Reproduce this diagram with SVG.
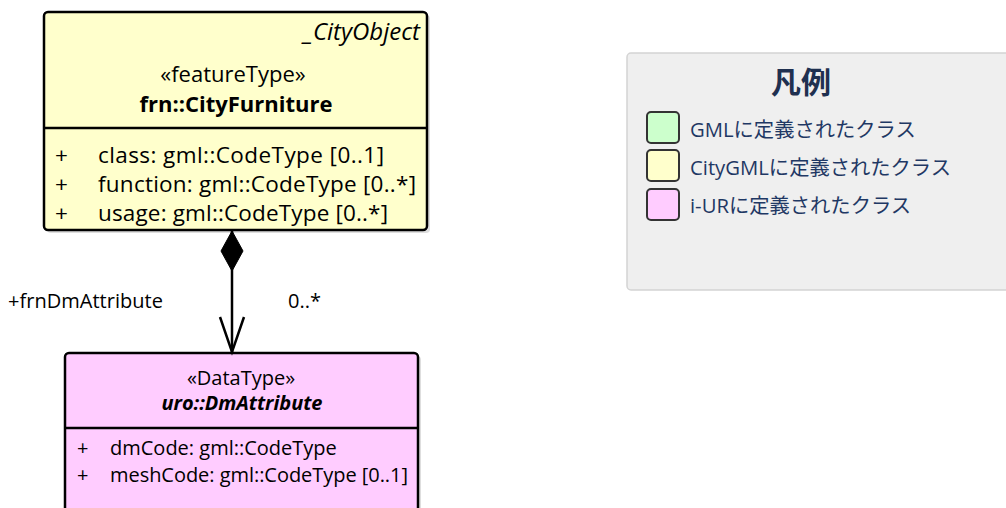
<svg xmlns="http://www.w3.org/2000/svg" width="1006" height="508" viewBox="0 0 1006 508">
<defs>
<style>
.t{font-family:"Open Sans","Noto Sans","Liberation Sans",sans-serif;fill:#000;}
.box{stroke:#000;stroke-width:2.5;}
.sh{fill:#c8c8c8;opacity:0.6;}
.h{font-size:22px;}
.a{font-size:22.5px;}
.b{font-size:20px;}
.lg{font-family:"Open Sans","Noto Sans CJK JP",sans-serif;font-size:20.3px;fill:#1f3864;}
.sw{stroke:#333;stroke-width:2;}
</style>
</defs>
<rect width="1006" height="508" fill="#ffffff"/>
<g id="legend">
<rect x="627" y="53" width="400" height="237" rx="4" fill="#efefef" stroke="#d4d4d4" stroke-width="1.5"/>
<text x="801" y="93" text-anchor="middle" font-family="'Noto Sans CJK JP',sans-serif" font-size="30" font-weight="bold" fill="#1f3050">凡例</text>
<rect class="sw" x="647" y="112" width="32" height="31" rx="4" fill="#ccffcc"/>
<rect class="sw" x="647" y="150" width="32" height="31" rx="4" fill="#ffffcc"/>
<rect class="sw" x="647" y="189" width="32" height="31" rx="4" fill="#ffccff"/>
<text class="lg" x="690" y="137">GMLに定義されたクラス</text>
<text class="lg" x="690" y="175">CityGMLに定義されたクラス</text>
<text class="lg" x="690" y="213">i-URに定義されたクラス</text>
</g>
<g id="CityFurniture">
<rect class="sh" x="47" y="15" width="383" height="218" rx="4"/>
<rect class="box" x="44" y="12" width="383" height="218" rx="4" fill="#ffffcc"/>
<line x1="44" y1="128" x2="427" y2="128" stroke="#000" stroke-width="2.5"/>
<text class="t" x="420" y="40" text-anchor="end" font-style="italic" font-size="24">_CityObject</text>
<text class="t h" x="233" y="82" text-anchor="middle">«featureType»</text>
<text class="t h" x="236" y="112" text-anchor="middle" font-weight="bold">frn::CityFurniture</text>
<text class="t a" x="55" y="163">+</text>
<text class="t a" x="98" y="163" textLength="286">class: gml::CodeType [0..1]</text>
<text class="t a" x="55" y="192">+</text>
<text class="t a" x="98" y="192" textLength="318">function: gml::CodeType [0..*]</text>
<text class="t a" x="55" y="221">+</text>
<text class="t a" x="98" y="221" textLength="290">usage: gml::CodeType [0..*]</text>
</g>
<g id="DmAttribute">
<rect class="sh" x="68" y="356" width="353" height="170" rx="4"/>
<rect class="box" x="65" y="353" width="353" height="170" rx="4" fill="#ffccff"/>
<line x1="65" y1="428" x2="418" y2="428" stroke="#000" stroke-width="2.5"/>
<text class="t b" x="241" y="385" text-anchor="middle">«DataType»</text>
<text class="t b" x="242" y="410" text-anchor="middle" font-weight="bold" font-style="italic" textLength="161">uro::DmAttribute</text>
<text class="t b" x="77" y="455">+</text>
<text class="t b" x="110" y="455">dmCode: gml::CodeType</text>
<text class="t b" x="77" y="482">+</text>
<text class="t b" x="110" y="482" textLength="298">meshCode: gml::CodeType [0..1]</text>
</g>
<g id="connectors">
<line x1="232" y1="231" x2="232" y2="352" stroke="#000" stroke-width="2.5"/>
<polygon points="232,231 243,251 232,271 221,251" fill="#000" stroke="#000" stroke-width="1"/>
<polyline points="220,317 232,352 244,317" fill="none" stroke="#000" stroke-width="2.5"/>
<text class="t b" x="8" y="308" textLength="155">+frnDmAttribute</text>
<text class="t b" x="288" y="308">0..*</text>
</g>
</svg>
